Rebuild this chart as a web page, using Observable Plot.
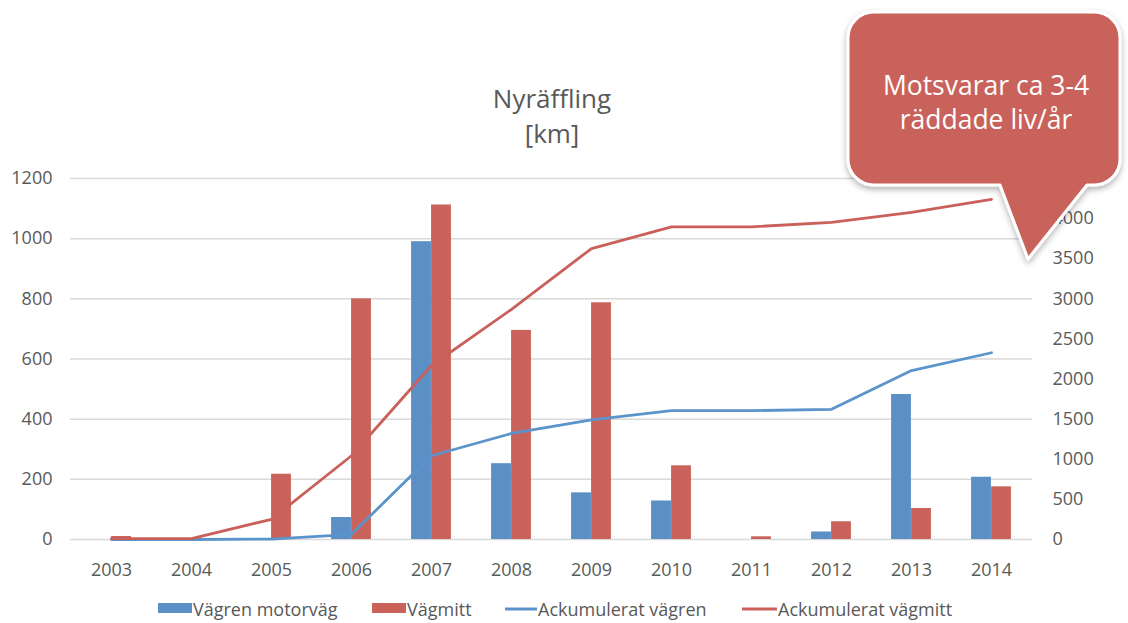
<!DOCTYPE html>
<html>
<head>
<meta charset="utf-8">
<script src="https://cdn.jsdelivr.net/npm/d3@7"></script>
<script src="https://cdn.jsdelivr.net/npm/@observablehq/plot@0.6"></script>
<style>
  html, body { margin: 0; padding: 0; background: #fff; }
  #wrap { position: relative; width: 1128px; height: 623px; overflow: hidden; }
  #wrap > svg { position: absolute; left: 0; top: 0; }
  #overlay { position: absolute; left: 0; top: 0; pointer-events: none; font-family: 'Open Sans', sans-serif; }
</style>
</head>
<body>
<div id="wrap"></div>
<script>
// ---- data ----
const years = ["2003","2004","2005","2006","2007","2008","2009","2010","2011","2012","2013","2014"];
const vagrenMotorvag = [0, 0, 0, 73, 990, 252, 155, 128, 0, 25, 482, 207];
const vagmitt = [10, 0, 217, 800, 1112, 695, 787, 245, 9, 59, 103, 175];
const ackVagren = [0, 0, 5, 65, 1044, 1322, 1490, 1606, 1606, 1623, 2106, 2328];
const ackVagmitt = [10, 10, 252, 1044, 2169, 2869, 3627, 3898, 3898, 3952, 4077, 4240];
const leftTicks = [0, 200, 400, 600, 800, 1000, 1200];
const rightTicks = [0, 500, 1000, 1500, 2000, 2500, 3000, 3500, 4000];
const leftMax = 1200, rightMax = 4500;
const seriesNames = ["Vägren motorväg", "Vägmitt", "Ackumulerat vägren", "Ackumulerat vägmitt"];
const titleLines = ["Nyräffling", "[km]"];
const calloutLines = ["Motsvarar ca 3-4", "räddade liv/år"];

// ---- styling ----
const blue = "#5B8FC6";
const red = "#C9625A";
const lineBlue = "#5B93CB";
const lineRed = "#C9605A";
const k = leftMax / rightMax;

const W = 1128, H = 623, mL = 70, mR = 96, mT = 178, mB = 84;
const bw = (W - mL - mR) / years.length;
const barW = 20;

const rows = years.map((y, i) => ({
  year: y,
  motorvag: vagrenMotorvag[i],
  vagmitt: vagmitt[i],
  ackVagren: ackVagren[i] * k,
  ackVagmitt: ackVagmitt[i] * k
}));

const chart = Plot.plot({
  width: W, height: H,
  marginLeft: mL, marginRight: mR, marginTop: mT, marginBottom: mB,
  style: { fontFamily: "'Open Sans', sans-serif", fontSize: "18px", color: "#595959", background: "transparent" },
  x: { type: "band", domain: years, padding: 0, label: null },
  y: { domain: [0, leftMax], label: null },
  marks: [
    Plot.gridY(leftTicks, { stroke: "#d9d9d9", strokeOpacity: 1, strokeWidth: 1.5 }),
    Plot.barY(rows, { x: "year", y: "motorvag", fill: blue, insetLeft: bw / 2 - barW, insetRight: bw / 2 }),
    Plot.barY(rows, { x: "year", y: "vagmitt", fill: red, insetLeft: bw / 2, insetRight: bw / 2 - barW }),
    Plot.line(rows, { x: "year", y: "ackVagren", stroke: lineBlue, strokeWidth: 2.8 }),
    Plot.line(rows, { x: "year", y: "ackVagmitt", stroke: lineRed, strokeWidth: 2.8 }),
    Plot.axisX({ tickSize: 0, tickPadding: 24, label: null }),
    Plot.axisY(leftTicks, { tickSize: 0, tickPadding: 18, label: null, tickFormat: d => String(d) }),
    Plot.axisY(rightTicks.map(v => v * k), { anchor: "right", tickSize: 0, tickPadding: 20, label: null, tickFormat: d => String(Math.round(d / k)) })
  ]
});
document.getElementById("wrap").appendChild(chart);

// ---- overlay: title, legend, callout ----
const ns = "http://www.w3.org/2000/svg";
const ov = d3.select("#wrap").append("svg")
  .attr("id", "overlay").attr("xmlns", ns)
  .attr("width", W).attr("height", H);

const defs = ov.append("defs");
const f = defs.append("filter").attr("id", "shadow").attr("x", "-10%").attr("y", "-10%").attr("width", "130%").attr("height", "140%");
f.append("feDropShadow").attr("dx", 0).attr("dy", 3).attr("stdDeviation", 3).attr("flood-color", "#000").attr("flood-opacity", 0.3);

// title
ov.append("text").attr("x", 552).attr("y", 108).attr("text-anchor", "middle")
  .attr("font-size", 26).attr("fill", "#595959").text(titleLines[0]);
ov.append("text").attr("x", 552).attr("y", 143).attr("text-anchor", "middle")
  .attr("font-size", 26).attr("fill", "#595959").text(titleLines[1]);

// legend
const lg = ov.append("g").attr("font-size", 18).attr("fill", "#595959");
lg.append("rect").attr("x", 158).attr("y", 603).attr("width", 34).attr("height", 10).attr("fill", blue);
lg.append("text").attr("x", 193).attr("y", 616).text(seriesNames[0]);
lg.append("rect").attr("x", 372).attr("y", 603).attr("width", 34).attr("height", 10).attr("fill", red);
lg.append("text").attr("x", 407).attr("y", 616).text(seriesNames[1]);
lg.append("line").attr("x1", 505).attr("x2", 537).attr("y1", 609).attr("y2", 609).attr("stroke", lineBlue).attr("stroke-width", 3);
lg.append("text").attr("x", 538).attr("y", 616).text(seriesNames[2]);
lg.append("line").attr("x1", 742).attr("x2", 777).attr("y1", 609).attr("y2", 609).attr("stroke", lineRed).attr("stroke-width", 3);
lg.append("text").attr("x", 778).attr("y", 616).text(seriesNames[3]);

// callout
const r = 26, x0 = 848, x1 = 1120, y0 = 12, y1 = 185;
const path = `M ${x0 + r} ${y0} H ${x1 - r} A ${r} ${r} 0 0 1 ${x1} ${y0 + r} V ${y1 - r} A ${r} ${r} 0 0 1 ${x1 - r} ${y1}
  H 1087 L 1028 259 L 1000 ${y1} H ${x0 + r} A ${r} ${r} 0 0 1 ${x0} ${y1 - r} V ${y0 + r} A ${r} ${r} 0 0 1 ${x0 + r} ${y0} Z`;
ov.append("path").attr("d", path).attr("fill", red).attr("stroke", "#fff").attr("stroke-width", 3)
  .attr("stroke-linejoin", "round").attr("filter", "url(#shadow)");
ov.append("text").attr("x", 986).attr("y", 95).attr("text-anchor", "middle").attr("font-size", 26.5).attr("fill", "#fff").text(calloutLines[0]);
ov.append("text").attr("x", 986).attr("y", 129).attr("text-anchor", "middle").attr("font-size", 26.5).attr("fill", "#fff").text(calloutLines[1]);
</script>
</body>
</html>
